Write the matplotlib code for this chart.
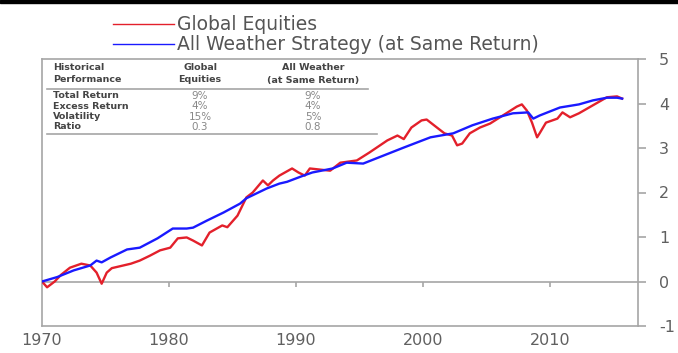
import matplotlib
matplotlib.use("Agg")
import matplotlib.pyplot as plt
from matplotlib.lines import Line2D
from matplotlib.patches import Rectangle

plt.rcParams['font.family'] = ['DejaVu Sans']
plt.rcParams['axes.unicode_minus'] = False

# ---------------- data ----------------
eq_years = [1970.0, 1970.4, 1971.0, 1971.5, 1972.2, 1973.1, 1973.8, 1974.3, 1974.7,
            1975.1, 1975.5, 1976.1, 1977.0, 1977.7, 1978.5, 1979.3, 1980.1, 1980.7,
            1981.4, 1981.9, 1982.6, 1983.2, 1984.2, 1984.6, 1985.4, 1986.1, 1986.6,
            1987.4, 1987.8, 1988.2, 1988.7, 1989.7, 1990.2, 1990.7, 1991.1, 1992.7,
            1993.5, 1994.8, 1995.8, 1997.2, 1998.0, 1998.5, 1999.1, 1999.9, 2000.3,
            2001.2, 2001.7, 2002.3, 2002.7, 2003.1, 2003.7, 2004.5, 2005.3, 2006.3,
            2007.4, 2007.8, 2008.2, 2008.6, 2009.0, 2009.2, 2009.7, 2010.6, 2011.0,
            2011.6, 2012.3, 2013.4, 2014.5, 2015.3, 2015.7]
eq_vals = [0.0, -0.13, 0.0, 0.15, 0.31, 0.40, 0.36, 0.20, -0.05,
           0.20, 0.30, 0.34, 0.40, 0.47, 0.58, 0.70, 0.76, 0.97,
           0.99, 0.92, 0.81, 1.10, 1.26, 1.22, 1.48, 1.89, 2.00,
           2.27, 2.16, 2.27, 2.38, 2.54, 2.45, 2.38, 2.54, 2.49,
           2.67, 2.72, 2.90, 3.17, 3.28, 3.20, 3.46, 3.62, 3.64,
           3.44, 3.33, 3.28, 3.06, 3.10, 3.33, 3.46, 3.55, 3.73,
           3.93, 3.98, 3.84, 3.57, 3.24, 3.33, 3.57, 3.66, 3.80,
           3.69, 3.78, 3.96, 4.14, 4.16, 4.11]

aw_years = [1970.0, 1971.2, 1972.5, 1973.8, 1974.3, 1974.7, 1975.4, 1976.7, 1977.7,
            1979.1, 1980.3, 1981.4, 1981.9, 1983.0, 1984.3, 1985.6, 1986.1, 1987.7,
            1988.7, 1989.3, 1990.6, 1991.3, 1992.9, 1994.0, 1995.3, 1996.9, 1998.5,
            2000.6, 2002.4, 2003.9, 2005.5, 2007.1, 2008.3, 2008.7, 2009.2, 2010.8,
            2012.3, 2013.4, 2014.5, 2015.3, 2015.7]
aw_vals = [0.0, 0.10, 0.25, 0.36, 0.47, 0.43, 0.54, 0.72, 0.76,
           0.97, 1.19, 1.19, 1.21, 1.37, 1.55, 1.75, 1.87, 2.09,
           2.20, 2.24, 2.38, 2.45, 2.54, 2.67, 2.65, 2.83, 3.01,
           3.24, 3.33, 3.51, 3.66, 3.78, 3.80, 3.66, 3.73, 3.91,
           3.98, 4.07, 4.13, 4.13, 4.11]

series_names = ["Global Equities", "All Weather Strategy (at Same Return)"]
x_ticks = [1970, 1980, 1990, 2000, 2010]
y_ticks = [-1, 0, 1, 2, 3, 4, 5]

table_header = [["Historical", "Performance"], ["Global", "Equities"], ["All Weather", "(at Same Return)"]]
table_rows = ["Total Return", "Excess Return", "Volatility", "Ratio"]
table_eq = ["9%", "4%", "15%", "0.3"]
table_aw = ["9%", "4%", "5%", "0.8"]

RED = "#e3202b"
BLUE = "#1a1aff"
GRAY = "#a6a6a6"
TXT = "#555555"

W, H = 678, 353
fig = plt.figure(figsize=(W / 100, H / 100), dpi=100)


def fx(px):
    return px / W


def fy(py):
    return 1 - py / H


# black bar at the top
fig.patches.append(Rectangle((0, fy(3)), 1, 3 / H, transform=fig.transFigure,
                             color="black", zorder=0))

ax = fig.add_axes([fx(42), fy(326), fx(638) - fx(42), fy(59) - fy(326)])
ax.set_xlim(1970, 2016.95)
ax.set_ylim(-1, 5)

ax.plot(eq_years, eq_vals, color=RED, lw=1.7, zorder=3)
ax.plot(aw_years, aw_vals, color=BLUE, lw=1.7, zorder=4)
ax.axhline(0, color=GRAY, lw=1.2, zorder=1)
# small ticks on the zero line
ax.vlines(x_ticks[1:], -0.13, 0, color=GRAY, lw=1.2, zorder=1)

for s in ax.spines.values():
    s.set_color(GRAY)
    s.set_linewidth(1.2)

ax.set_xticks(x_ticks)
ax.set_xticklabels([str(v) for v in x_ticks])
ax.tick_params(axis="x", length=0, pad=5, labelsize=11.5, labelcolor="#606060")
ax.set_yticks(y_ticks)
ax.yaxis.tick_right()
ax.tick_params(axis="y", length=6, width=1.2, color=GRAY, pad=9,
               labelsize=11.5, labelcolor="#606060")

# legend drawn at the top
for i, (name, c) in enumerate(zip(series_names, [RED, BLUE])):
    yy = 24 + i * 20
    fig.add_artist(Line2D([fx(113), fx(174)], [fy(yy), fy(yy)], color=c, lw=1.0,
                          transform=fig.transFigure))
    fig.text(fx(177), fy(yy), name, fontsize=13.5, color=TXT, va="center", ha="left")

# performance table
col_x = [53, 200, 313]
for j, hdr in enumerate(table_header):
    for k, line in enumerate(hdr):
        fig.text(fx(col_x[j]), fy(68 + k * 12), line, fontsize=6.8, fontweight="bold",
                 color="#444444", va="center", ha="left" if j == 0 else "center")
fig.add_artist(Line2D([fx(47), fx(368)], [fy(89), fy(89)], color=GRAY, lw=1.2,
                      transform=fig.transFigure))
for i, lab in enumerate(table_rows):
    yy = 96 + i * 10.3
    fig.text(fx(col_x[0]), fy(yy), lab, fontsize=6.8, fontweight="bold",
             color="#444444", va="center", ha="left")
    fig.text(fx(col_x[1]), fy(yy), table_eq[i], fontsize=7.5, color="#888888",
             va="center", ha="center")
    fig.text(fx(col_x[2]), fy(yy), table_aw[i], fontsize=7.5, color="#888888",
             va="center", ha="center")
fig.add_artist(Line2D([fx(47), fx(377)], [fy(134), fy(134)], color=GRAY, lw=1.2,
                      transform=fig.transFigure))

fig.savefig("out.png", dpi=100)
